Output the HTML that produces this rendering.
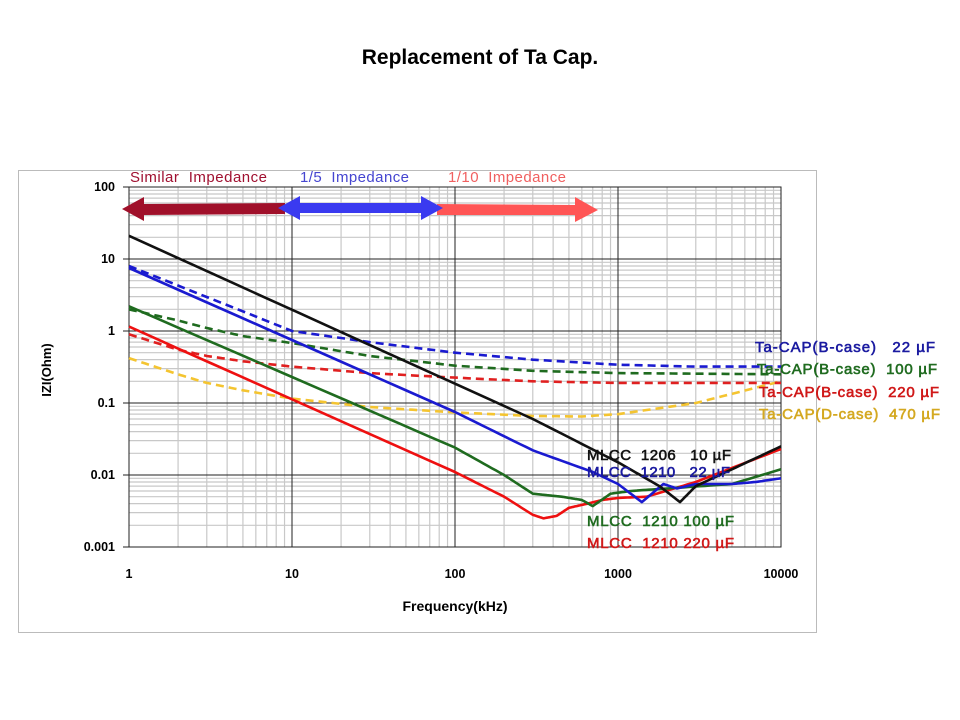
<!DOCTYPE html>
<html><head><meta charset="utf-8"><style>
body{margin:0;background:#fff;width:960px;height:720px;overflow:hidden}
svg{display:block}
text{white-space:pre}
</style></head><body>
<svg id="s" width="960" height="720" xmlns="http://www.w3.org/2000/svg" font-family="Liberation Sans, sans-serif">
<rect width="960" height="720" fill="#fff"/>
<text x="480" y="64" text-anchor="middle" font-size="21" font-weight="bold">Replacement of Ta Cap.</text>
<rect x="18.5" y="170.5" width="798" height="462" fill="#fff" stroke="#bbb"/>
<g id="grid"></g>
<g id="curves"></g>
<g font-size="12.5" font-weight="bold" text-anchor="end">
<text x="115" y="191">100</text><text x="115" y="263">10</text><text x="115" y="335">1</text>
<text x="115" y="407">0.1</text><text x="115" y="479">0.01</text><text x="115" y="551">0.001</text>
</g>
<g font-size="12.5" font-weight="bold" text-anchor="middle">
<text x="129" y="578">1</text><text x="292" y="578">10</text><text x="455" y="578">100</text>
<text x="618" y="578">1000</text><text x="781" y="578">10000</text>
</g>
<text x="455" y="611" text-anchor="middle" font-size="14" font-weight="bold">Frequency(kHz)</text>
<text transform="translate(51,370) rotate(-90)" text-anchor="middle" font-size="13" font-weight="bold">IZI(Ohm)</text>
<g font-size="15">
<text x="130" y="182" fill="#a01030" textLength="137">Similar  Impedance</text>
<text x="300" y="182" fill="#4545d0" textLength="109">1/5  Impedance</text>
<text x="448" y="182" fill="#f06060" textLength="118">1/10  Impedance</text>
</g>
<polygon points="437,204 575,205 575,197 598,210 575,222 575,215 437,215" fill="#f55"/>
<polygon points="122,209 144,197 144,204 285,203 285,214 144,215 144,221" fill="#a0102a"/>
<polygon points="278,208 300,196 300,203 421,203 421,196 443,208 421,220 421,213 300,213 300,220" fill="#3a3af0"/>
<g font-size="15" style="paint-order:stroke" stroke-width="0.6">
<text x="755" y="352" fill="#1a1aa0" stroke="#1a1aa0" textLength="180">Ta-CAP(B-case)   22 µF</text>
<text x="757" y="374" fill="#1f6b1f" stroke="#1f6b1f" textLength="180">Ta-CAP(B-case)  100 µF</text>
<text x="759" y="397" fill="#d01818" stroke="#d01818" textLength="180">Ta-CAP(B-case)  220 µF</text>
<text x="759" y="419" fill="#d4a820" stroke="#d4a820" textLength="181">Ta-CAP(D-case)  470 µF</text>
<text x="587" y="460" fill="#111" stroke="#111" textLength="144">MLCC  1206   10 µF</text>
<text x="587" y="477" fill="#1a1aa0" stroke="#1a1aa0" textLength="143">MLCC  1210   22 µF</text>
<text x="587" y="526" fill="#1f6b1f" stroke="#1f6b1f" textLength="147">MLCC  1210 100 µF</text>
<text x="587" y="548" fill="#d01818" stroke="#d01818" textLength="147">MLCC  1210 220 µF</text>
</g>
</svg>
<script>
var NS="http://www.w3.org/2000/svg";
function X(f){return 129+163*Math.log10(f)}
function Y(z){return 331-72*Math.log10(z)}
function el(p,t,a){var e=document.createElementNS(NS,t);for(var k in a)e.setAttribute(k,a[k]);p.appendChild(e);return e}
var g=document.getElementById('grid');
var minor=[];
for(var d=0;d<4;d++)for(var k=2;k<=9;k++)minor.push(['v',129+163*(d+Math.log10(k))]);
for(var d=0;d<5;d++)for(var k=2;k<=9;k++)minor.push(['h',547-72*(d+Math.log10(k))]);
minor.forEach(function(m){if(m[0]=='v')el(g,'line',{x1:m[1],x2:m[1],y1:187,y2:547,stroke:'#c8c8c8','stroke-width':1.2});else el(g,'line',{x1:129,x2:781,y1:m[1],y2:m[1],stroke:'#c8c8c8','stroke-width':1.2});});
for(var i=0;i<5;i++){var x=129+163*i;el(g,'line',{x1:x,x2:x,y1:187,y2:547,stroke:'#222','stroke-width':1})}
for(var i=0;i<6;i++){var y=187+72*i;el(g,'line',{x1:129,x2:781,y1:y,y2:y,stroke:'#222','stroke-width':1});el(g,'line',{x1:123,x2:129,y1:y,y2:y,stroke:'#222'})}
el(g,'rect',{x:129,y:187,width:652,height:360,fill:'none',stroke:'#222'});
var c=document.getElementById('curves');
function curve(pts,col,dash){
 var out=[];
 for(var i=0;i<pts.length-1;i++){var a=pts[i],b=pts[i+1];var n=12;
  for(var j=0;j<n;j++){var t=j/n;var lf=Math.log10(a[0])*(1-t)+Math.log10(b[0])*t;var lz=Math.log10(a[1])*(1-t)+Math.log10(b[1])*t;out.push((129+163*lf).toFixed(1)+','+(331-72*lz).toFixed(1));}}
 var l=pts[pts.length-1];out.push(X(l[0]).toFixed(1)+','+Y(l[1]).toFixed(1));
 var a={points:out.join(' '),fill:'none',stroke:col,'stroke-width':2.6,'stroke-linejoin':'round'};
 if(dash)a['stroke-dasharray']='8,5';
 el(c,'polyline',a);
}
curve([[1,0.42],[2,0.25],[3,0.19],[5,0.15],[10,0.115],[30,0.088],[100,0.074],[300,0.066],[600,0.065],[1000,0.07],[3000,0.1],[10000,0.2]],'#f4c430',1);
curve([[1,0.9],[2,0.55],[3,0.45],[5,0.38],[10,0.32],[30,0.26],[100,0.225],[300,0.2],[1000,0.19],[10000,0.19]],'#e02020',1);
curve([[1,2],[2,1.4],[3,1.1],[5,0.85],[10,0.68],[30,0.45],[100,0.33],[300,0.28],[1000,0.26],[10000,0.25]],'#1f6b1f',1);
curve([[1,8],[10,1.0],[30,0.7],[100,0.5],[300,0.4],[1000,0.34],[3000,0.32],[10000,0.32]],'#1a1ad0',1);
curve([[1,1.15],[100,0.011],[200,0.005],[300,0.0028],[350,0.0025],[420,0.0027],[500,0.0035],[650,0.004],[800,0.0045],[1000,0.0048],[1500,0.005],[3000,0.008],[10000,0.023]],'#ee1010');
curve([[1,2.2],[100,0.024],[200,0.01],[300,0.0055],[450,0.005],[600,0.0045],[700,0.0037],[900,0.0055],[1200,0.006],[2000,0.0065],[5000,0.0075],[10000,0.012]],'#1f6b1f');
curve([[1,7.5],[100,0.075],[300,0.022],[700,0.011],[1000,0.0075],[1400,0.0042],[1900,0.0075],[2300,0.0065],[3000,0.0075],[5000,0.0075],[7000,0.008],[10000,0.009]],'#1a1ad0');
curve([[1,21],[300,0.06],[1000,0.015],[1800,0.007],[2400,0.0042],[3000,0.007],[5000,0.012],[10000,0.025]],'#111');
</script>
</body></html>
